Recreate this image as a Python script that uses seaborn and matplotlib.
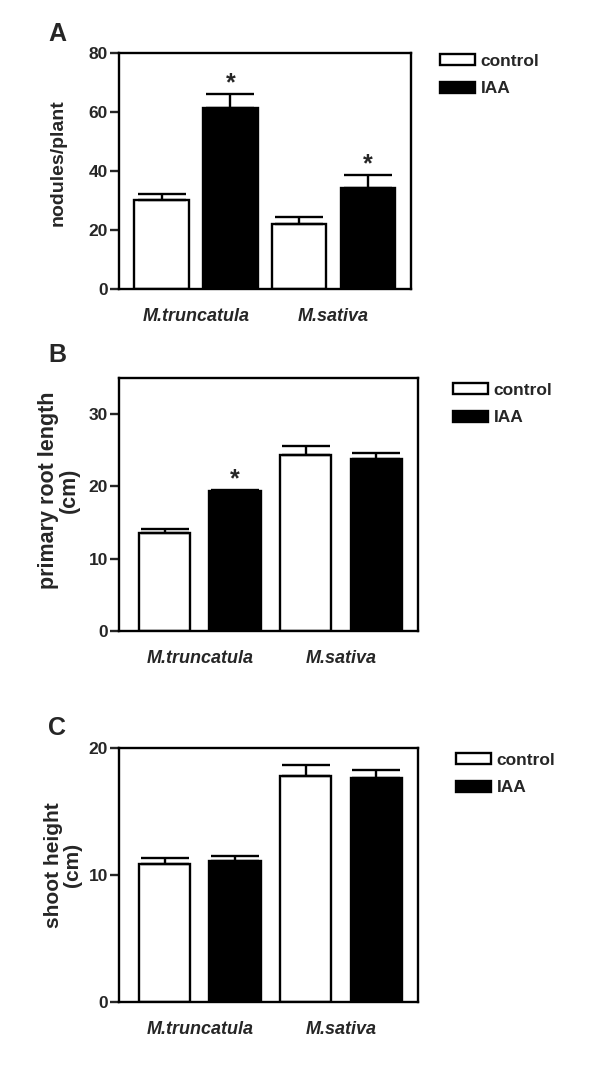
import numpy as np
import pandas as pd
import seaborn as sns
import matplotlib.pyplot as plt
from matplotlib.ticker import FixedLocator

sns.set_style('white')
plt.rcParams['font.family'] = ['Liberation Sans', 'DejaVu Sans']

species = ['M.truncatula', 'M.sativa']
treatments = ['control', 'IAA']

# A - nodules per plant
nod_control = [30.2, 22.0]
nod_control_sem = [2.0, 2.3]
nod_iaa = [61.3, 34.3]
nod_iaa_sem = [4.8, 4.4]

# B - primary root length (cm)
root_control = [13.5, 24.4]
root_control_sem = [0.6, 1.2]
root_iaa = [19.4, 23.8]
root_iaa_sem = [0.1, 0.8]

# C - shoot height (cm)
shoot_control = [10.9, 17.8]
shoot_control_sem = [0.45, 0.9]
shoot_iaa = [11.1, 17.65]
shoot_iaa_sem = [0.4, 0.65]

# significant differences (treatment, species)
nod_stars = [('IAA', 'M.truncatula'), ('IAA', 'M.sativa')]
root_stars = [('IAA', 'M.truncatula')]
shoot_stars = []

W, H = 600, 1073


def make_df(ctrl, iaa, ctrl_sem, iaa_sem):
    rows = []
    for sp, m, s in zip(species, ctrl, ctrl_sem):
        rows.append({'species': sp, 'treatment': 'control', 'mean': m, 'sem': s})
    for sp, m, s in zip(species, iaa, iaa_sem):
        rows.append({'species': sp, 'treatment': 'IAA', 'mean': m, 'sem': s})
    return pd.DataFrame(rows)


def panel(fig, rect, df, ylabel, ylabel_size, yticks, ylim, gap, xlim, stars,
          letter, letter_xy, label_xy, leg_xy):
    ax = fig.add_axes(rect)
    sns.barplot(data=df, x='species', y='mean', hue='treatment', order=species,
                hue_order=treatments, palette={'control': 'white', 'IAA': 'black'},
                edgecolor='black', linewidth=1.7, width=1.0, gap=gap,
                errorbar=None, legend=False, ax=ax)
    # upward-only SEM error bars
    for cont, tr in zip(ax.containers, treatments):
        sub = df[df['treatment'] == tr].set_index('species').loc[species]
        xs = [p.get_x() + p.get_width() / 2 for p in cont.patches]
        ax.errorbar(xs, sub['mean'], yerr=[np.zeros(len(xs)), sub['sem']],
                    fmt='none', ecolor='black', elinewidth=1.7, capsize=17,
                    capthick=1.7, zorder=1)
        for x, sp, m, s in zip(xs, species, sub['mean'], sub['sem']):
            if (tr, sp) in stars:
                ax.annotate('*', xy=(x, m + s), xytext=(0, -1),
                            textcoords='offset points', ha='center', va='bottom',
                            fontsize=18, fontweight='bold')
    ax.set_ylim(*ylim)
    ax.set_xlim(*xlim)
    ax.yaxis.set_major_locator(FixedLocator(yticks))
    ax.set_yticklabels([str(t) for t in yticks], fontsize=12.5, fontweight='bold')
    ax.set_xticks(range(len(species)))
    ax.set_xticklabels(species, fontsize=13, fontweight='bold', style='italic')
    ax.tick_params(axis='y', length=6.5, width=1.7, pad=1.5, direction='out', left=True)
    ax.tick_params(axis='x', length=0, pad=14)
    ax.set_xlabel('')
    ax.set_ylabel(ylabel, fontsize=ylabel_size, fontweight='bold', linespacing=1.0)
    ax.yaxis.set_label_coords(*label_xy)
    for sp in ax.spines.values():
        sp.set_visible(True)
        sp.set_color('black')
        sp.set_linewidth(1.7)
    ax.legend(ax.containers, treatments, loc='upper left',
              bbox_to_anchor=(leg_xy[0] / W, 1 - leg_xy[1] / H),
              bbox_transform=fig.transFigure, frameon=False,
              prop={'size': 12.5, 'weight': 'bold'}, handlelength=2.0,
              handleheight=0.6, handletextpad=0.35, labelspacing=0.7,
              borderpad=0, borderaxespad=0)
    fig.text(letter_xy[0] / W, 1 - letter_xy[1] / H, letter, fontsize=18,
             fontweight='bold', ha='center', va='center')
    return ax


fig = plt.figure(figsize=(6, 10.73), dpi=100)

df_a = make_df(nod_control, nod_iaa, nod_control_sem, nod_iaa_sem)
df_b = make_df(root_control, root_iaa, root_control_sem, root_iaa_sem)
df_c = make_df(shoot_control, shoot_iaa, shoot_control_sem, shoot_iaa_sem)

panel(fig, [119 / W, 1 - 289 / H, 292 / W, 236 / H], df_a, 'nodules/plant', 14,
      [0, 20, 40, 60, 80], (0, 80), 0.21, (-0.56, 1.564), nod_stars, 'A', (57, 34),
      (-0.178, 0.534), (440, 54))
panel(fig, [119 / W, 1 - 631 / H, 299 / W, 253 / H], df_b,
      'primary root length\n(cm)', 15.5, [0, 10, 20, 30], (0, 35), 0.27,
      (-0.574, 1.546), root_stars, 'B', (57, 355), (-0.13, 0.557), (453, 383))
panel(fig, [119 / W, 1 - 1002 / H, 299 / W, 254 / H], df_c,
      'shoot height\n(cm)', 15, [0, 10, 20], (0, 20), 0.27, (-0.574, 1.546),
      shoot_stars, 'C', (57, 728), (-0.124, 0.539), (456, 753))

plt.savefig('out.png', dpi=100)
